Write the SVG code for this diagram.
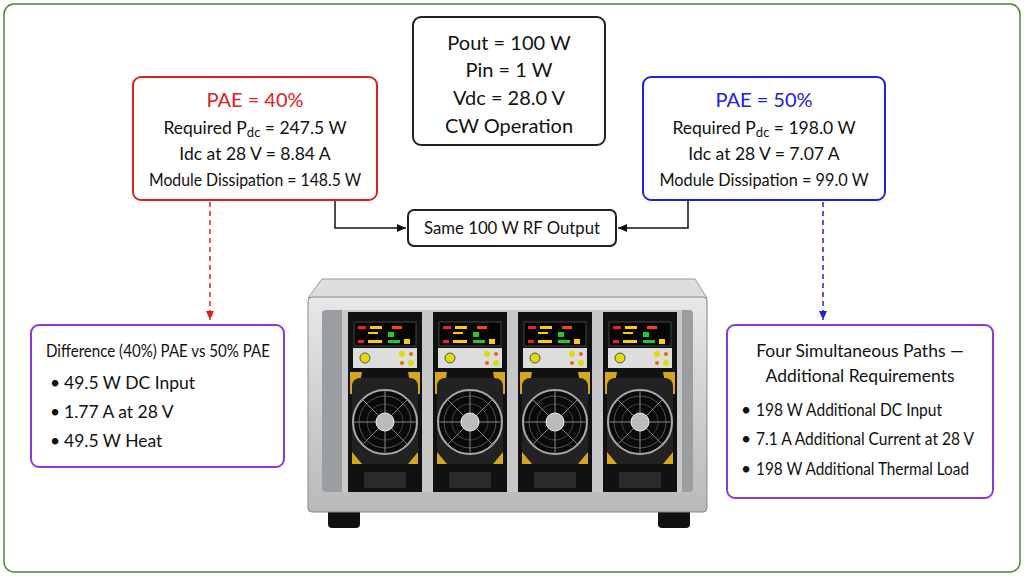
<svg xmlns="http://www.w3.org/2000/svg" width="1024" height="576" viewBox="0 0 1024 576">
<defs>
<style>
text{font-family:Lato,"Liberation Sans",sans-serif;fill:#111;text-anchor:middle}
.box{fill:#fff;stroke-width:2}
.t{font-size:20px}
.s{font-size:17.5px}
.l{text-anchor:start}
</style>
<marker id="ak" markerWidth="10" markerHeight="10" refX="9" refY="5" orient="auto" markerUnits="userSpaceOnUse"><path d="M0,1 L9,5 L0,9 z" fill="#111"/></marker>
<marker id="ar" markerWidth="10" markerHeight="10" refX="9" refY="5" orient="auto" markerUnits="userSpaceOnUse"><path d="M0,1 L9,5 L0,9 z" fill="#e02020"/></marker>
<marker id="ab" markerWidth="10" markerHeight="10" refX="9" refY="5" orient="auto" markerUnits="userSpaceOnUse"><path d="M0,1 L9,5 L0,9 z" fill="#2020e0"/></marker>
<linearGradient id="metal" x1="0" y1="0" x2="0" y2="1"><stop offset="0" stop-color="#e8e8e8"/><stop offset="1" stop-color="#b8b8b8"/></linearGradient>
<g id="mod">
<rect x="0" y="0" width="74" height="180" fill="#111"/>
<rect x="6" y="10" width="62" height="24" fill="#050505" stroke="#444"/>
<rect x="10" y="14" width="8" height="3" fill="#e22"/><rect x="22" y="14" width="12" height="3" fill="#fc0"/><rect x="44" y="14" width="10" height="3" fill="#f40"/>
<rect x="20" y="20" width="10" height="2" fill="#fc0"/><rect x="40" y="20" width="6" height="5" fill="#2c2"/>
<rect x="10" y="28" width="6" height="3" fill="#e22"/><rect x="20" y="28" width="14" height="3" fill="#fc0"/><rect x="40" y="28" width="12" height="3" fill="#2c2"/><rect x="56" y="27" width="6" height="5" fill="#fc0"/>
<rect x="5" y="36" width="64" height="20" fill="#ddd"/>
<circle cx="17" cy="46" r="5" fill="#dd0" stroke="#555"/>
<circle cx="54" cy="42" r="3" fill="#dd0"/><circle cx="63" cy="42" r="2" fill="#e60"/><circle cx="54" cy="51" r="2" fill="#e60"/><circle cx="63" cy="51" r="3" fill="#dd0"/>
<path d="M2,60 h12 l-4,22 h-8 z M72,60 h-12 l4,22 h8 z" fill="#d4a81c"/>
<rect x="4" y="66" width="66" height="86" rx="8" fill="#222"/>
<circle cx="37" cy="110" r="32" fill="#0a0a0a" stroke="#aaa" stroke-width="2"/>
<circle cx="37" cy="110" r="26" fill="none" stroke="#555" stroke-width="1"/>
<circle cx="37" cy="110" r="18" fill="none" stroke="#444" stroke-width="1"/>
<path d="M37,78 V142 M5,110 H69 M14,87 L60,133 M60,87 L14,133" stroke="#888" stroke-width="1"/>
<circle cx="37" cy="110" r="9" fill="#bbb" stroke="#eee"/>
<path d="M4,140 l10,12 h-10 z M70,140 l-10,12 h10 z" fill="#d4a81c"/>
<rect x="16" y="160" width="42" height="16" fill="#2a2a2a"/>
</g>
</defs>
<rect x="4" y="4" width="1016" height="568" rx="10" fill="#fff" stroke="#4a8a2a" stroke-width="1.5"/>

<g id="connectors" fill="none" stroke-width="1.5">
<path d="M335,200 V228 H406" stroke="#111" marker-end="url(#ak)"/>
<path d="M688,200 V228 H618" stroke="#111" marker-end="url(#ak)"/>
<path d="M210,202 V320" stroke="#e02020" stroke-dasharray="5,4" marker-end="url(#ar)"/>
<path d="M823,202 V320" stroke="#2020e0" stroke-dasharray="5,4" marker-end="url(#ab)"/>
</g>

<g id="inputs">
<rect class="box" x="413" y="17" width="192" height="128" rx="8" stroke="#222"/>
<text class="t" x="509" y="50">Pout = 100 W</text>
<text class="t" x="509" y="77">Pin = 1 W</text>
<text class="t" x="509" y="105">Vdc = 28.0 V</text>
<text class="t" x="509" y="133">CW Operation</text>
</g>
<g id="pae40">
<rect class="box" x="133" y="77" width="244" height="123" rx="8" stroke="#e02020"/>
<text class="t" x="255" y="107" style="fill:#e02020">PAE = 40%</text>
<text class="s" x="255" y="134">Required P<tspan font-size="13" dy="3">dc</tspan><tspan dy="-3"> = 247.5 W</tspan></text>
<text class="s" x="255" y="160">Idc at 28 V = 8.84 A</text>
<text class="s" x="255" y="186" textLength="212" lengthAdjust="spacingAndGlyphs">Module Dissipation = 148.5 W</text>
</g>
<g id="pae50">
<rect class="box" x="643" y="77" width="242" height="123" rx="8" stroke="#2020e0"/>
<text class="t" x="764" y="107" style="fill:#2020e0">PAE = 50%</text>
<text class="s" x="764" y="134">Required P<tspan font-size="13" dy="3">dc</tspan><tspan dy="-3"> = 198.0 W</tspan></text>
<text class="s" x="764" y="160">Idc at 28 V = 7.07 A</text>
<text class="s" x="764" y="186" textLength="209" lengthAdjust="spacingAndGlyphs">Module Dissipation = 99.0 W</text>
</g>
<g id="output">
<rect class="box" x="408" y="210" width="208" height="36" rx="6" stroke="#222"/>
<text class="s" x="512" y="234" textLength="176" lengthAdjust="spacingAndGlyphs">Same 100 W RF Output</text>
</g>
<g id="diff">
<rect class="box" x="31" y="325" width="253" height="142" rx="8" stroke="#8a3ad8"/>
<text class="s" x="158" y="357" textLength="224" lengthAdjust="spacingAndGlyphs">Difference (40%) PAE vs 50% PAE</text>
<text class="s l" x="50" y="389">•</text><text class="s l" x="64" y="389">49.5 W DC Input</text>
<text class="s l" x="50" y="418">•</text><text class="s l" x="64" y="418">1.77 A at 28 V</text>
<text class="s l" x="50" y="447">•</text><text class="s l" x="64" y="447">49.5 W Heat</text>
</g>
<g id="paths">
<rect class="box" x="727" y="325" width="266" height="173" rx="8" stroke="#8a3ad8"/>
<text class="s" x="860" y="357">Four Simultaneous Paths —</text>
<text class="s" x="860" y="382">Additional Requirements</text>
<text class="s l" x="741" y="416">•</text><text class="s l" x="756" y="416" textLength="186" lengthAdjust="spacingAndGlyphs">198 W Additional DC Input</text>
<text class="s l" x="741" y="445">•</text><text class="s l" x="756" y="445" textLength="218" lengthAdjust="spacingAndGlyphs">7.1 A Additional Current at 28 V</text>
<text class="s l" x="741" y="475">•</text><text class="s l" x="756" y="475" textLength="213" lengthAdjust="spacingAndGlyphs">198 W Additional Thermal Load</text>
</g>
<g id="chassis">
<rect x="328" y="508" width="32" height="20" rx="4" fill="#111"/>
<rect x="658" y="508" width="32" height="20" rx="4" fill="#111"/>
<path d="M322,279 H695 L707,298 H308 Z" fill="#ddd" stroke="#999"/>
<rect x="308" y="297" width="399" height="215" rx="4" fill="url(#metal)" stroke="#888"/>
<rect x="322" y="310" width="371" height="182" rx="4" fill="#9a9ea2"/>
<rect x="342" y="310" width="340" height="182" fill="#c8c8c8"/>
<use href="#mod" x="348" y="312"/>
<use href="#mod" x="433" y="312"/>
<use href="#mod" x="518" y="312"/>
<use href="#mod" x="603" y="312"/>
</g>
</svg>
